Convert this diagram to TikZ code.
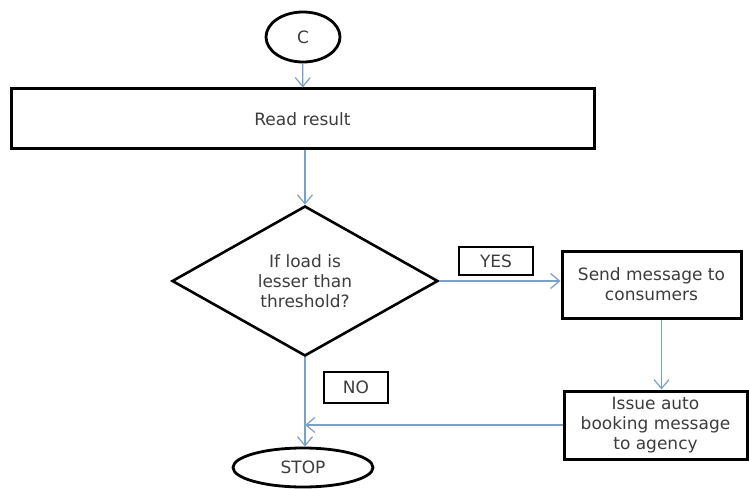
\documentclass[tikz,border=0pt]{standalone}
\usepackage{fontspec}
\setmainfont{DejaVu Sans}
\usepackage{tikz}
\usetikzlibrary{shapes.geometric}
\usetikzlibrary{arrows.meta}
\definecolor{flowblue}{RGB}{122,160,200}
\definecolor{flowtext}{RGB}{60,60,60}

\begin{document}
\begin{tikzpicture}[x=1pt,y=-1pt,every node/.style={text=flowtext,font=\fontsize{17}{20}\selectfont,align=center},
  proc/.style={draw,line width=3pt,rectangle,inner sep=0pt},
  term/.style={draw,line width=2.8pt,ellipse,inner sep=0pt},
  tag/.style={draw,line width=2.6pt,rectangle,inner sep=0pt},
  flow/.style={draw=flowblue,line width=1.2pt,-{Straight Barb[length=9pt,width=15pt,line width=1.2pt]}}]
  \useasboundingbox (0,0) rectangle (749,489);
  %top
  \node[term,name=c,minimum width=74pt,minimum height=50pt,at={(303,37)}]{C};
  \node[proc,name=read,minimum width=583pt,minimum height=60pt,at={(302.5,119)}]{Read result};
  \node[draw,line width=2.6pt,diamond,aspect=1.77,inner sep=0pt,name=cond,minimum width=266pt,minimum height=150pt,at={(305,281)}]{If load is\\lesser than\\threshold?};
  
  %right
  \node[tag,name=yes,minimum width=74pt,minimum height=28pt,at={(496,261)}]{YES};
  \node[proc,name=send,minimum width=179pt,minimum height=67pt,at={(651.5,284.5)}]{Send message to\\consumers};
  \node[proc,name=issue,minimum width=183pt,minimum height=68pt,at={(655.5,425)}]{Issue auto\\booking message\\to agency};
  
  %bottom
  \node[tag,name=no,minimum width=64pt,minimum height=31pt,at={(356,387.5)}]{NO};
  \node[term,name=stop,minimum width=140pt,minimum height=39pt,at={(303,467.5)}]{STOP};
  
  \draw[flow] (c) -- (read);
  \draw[flow] (read.south -| cond.north) -- (cond.north);
  \draw[flow] (cond.east) -- (cond.east -| send.west);
  \draw[flow] ([xshift=10pt]send.south) -- ([xshift=10pt]send.south |- issue.north);
  \draw[flow] (cond.south) -- (cond.south |- stop.north);
  \draw[flow] (issue.west) -- (issue.west -| cond.south);
\end{tikzpicture}
\end{document}
